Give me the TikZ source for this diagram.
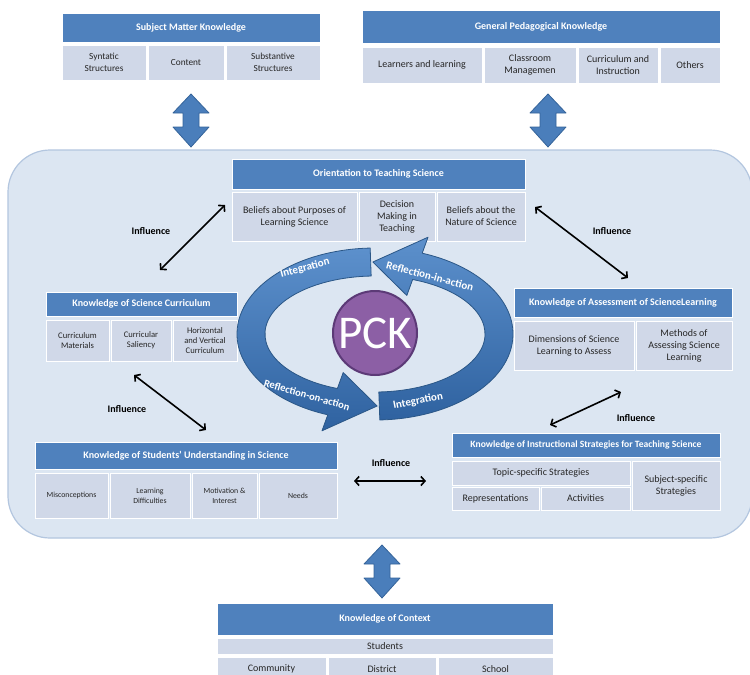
\documentclass[tikz,border=0pt]{standalone}
\usepackage{fontspec}
\setmainfont{Carlito}
\usetikzlibrary{arrows.meta}
\definecolor{hdrc}{HTML}{4F81BD}
\definecolor{cellc}{HTML}{D0D8E8}
\definecolor{bgc}{HTML}{DCE6F2}
\definecolor{bgline}{HTML}{B3C6DF}
\definecolor{blkc}{HTML}{4A7EBB}
\definecolor{blkline}{HTML}{35649A}
\definecolor{cyctop}{HTML}{5C90CC}
\definecolor{cycbot}{HTML}{2F62A0}
\definecolor{cycline}{HTML}{2B5787}
\definecolor{pckc}{HTML}{8C5FA5}
\definecolor{pckline}{HTML}{5C3A77}
\definecolor{txtc}{HTML}{262626}

\newcommand\boxnode[7]{%
  \pgfmathsetmacro\bxw{#5-#3}%
  \pgfmathsetmacro\bxh{#6-#4}%
  \node[#1, minimum width=\bxw pt, minimum height=\bxh pt] (#2) at ({(#3+#5)/2},{(#4+#6)/2}) {#7};}
\newcommand\dblarrow[3]{%
  \filldraw[blockarrow] (#1,#2) -- (#1+18,#2+19) -- (#1+8,#2+19) -- (#1+8,#3-20) -- (#1+18,#3-20)
    -- (#1,#3) -- (#1-18,#3-20) -- (#1-8,#3-20) -- (#1-8,#2+19) -- (#1-18,#2+19) -- cycle;}

\begin{document}
\begin{tikzpicture}[x=1pt,y=-1pt,
  hdr/.style={fill=hdrc, draw=white, line width=0.8pt, text=white,
    font=\fontsize{10}{12}\selectfont\bfseries, inner sep=1pt, align=center},
  cell/.style={fill=cellc, draw=white, line width=0.8pt, text=txtc,
    font=\fontsize{10}{12}\selectfont, inner sep=1pt, align=center},
  midcell/.style={cell, font=\fontsize{9.3}{11.5}\selectfont},
  smallcell/.style={cell, font=\fontsize{8.6}{10.2}\selectfont},
  tinycell/.style={cell, font=\fontsize{7.8}{9.8}\selectfont},
  blockarrow/.style={fill=blkc, draw=blkline, line width=0.8pt, line join=round},
  infl/.style={<->, >={Straight Barb[length=4pt,width=9pt]}, line width=1.6pt, black},
  infllbl/.style={font=\fontsize{10}{12}\selectfont\bfseries, text=black, inner sep=1pt},
  cyc/.style={top color=cyctop, bottom color=cycbot, draw=cycline, line width=0.8pt, line join=round},
  cyctxt/.style={text=white, font=\fontsize{11}{13}\selectfont\bfseries, inner sep=0pt},
]
\useasboundingbox (0,0) rectangle (750,675);
\fill[white] (0,0) rectangle (750,675);

% background panel
\draw[fill=bgc, draw=bgline, line width=1.2pt, rounded corners=42pt] (8,150) rectangle (752,538);

% block arrows
\dblarrow{191}{94}{147}
\dblarrow{548}{94}{147}
\dblarrow{382}{545}{598}

% Subject Matter Knowledge
\boxnode{hdr}{smk}{62}{13}{320}{42}{Subject Matter Knowledge}
\boxnode{midcell}{smk1}{62}{45}{146}{80}{Syntatic\\Structures}
\boxnode{midcell}{smk2}{148}{45}{224}{80}{Content}
\boxnode{midcell}{smk3}{226}{45}{320}{80}{Substantive\\Structures}

% General Pedagogical Knowledge
\boxnode{hdr}{gpk}{362}{10}{720}{43}{General Pedagogical Knowledge}
\boxnode{cell}{gpk1}{362}{47}{482}{83}{Learners and learning}
\boxnode{cell}{gpk2}{484}{47}{576}{83}{Classroom\\Managemen}
\boxnode{cell}{gpk3}{578}{47}{658}{83}{Curriculum and\\Instruction}
\boxnode{cell}{gpk4}{660}{47}{720}{83}{Others}

% Orientation to Teaching Science
\boxnode{hdr}{ots}{232}{159}{525}{189}{Orientation to Teaching Science}
\boxnode{cell}{ots1}{232}{192}{357}{241}{Beliefs about Purposes of\\Learning Science}
\boxnode{cell}{ots2}{359}{192}{435}{241}{Decision\\Making in\\Teaching}
\boxnode{cell}{ots3}{437}{192}{525}{241}{Beliefs about the\\Nature of Science}

% Knowledge of Science Curriculum
\boxnode{hdr}{ksc}{46}{292}{237}{316}{Knowledge of Science Curriculum}
\boxnode{smallcell}{ksc1}{46}{320}{109}{361}{Curriculum\\Materials}
\boxnode{smallcell}{ksc2}{111}{320}{171}{361}{Curricular\\Saliency}
\boxnode{smallcell}{ksc3}{173}{320}{237}{361}{Horizontal\\and Vertical\\Curriculum}

% Knowledge of Assessment
\boxnode{hdr}{kas}{514}{288}{732}{317}{Knowledge of Assessment of ScienceLearning}
\boxnode{cell}{kas1}{514}{321}{634}{370}{Dimensions of Science\\Learning to Assess}
\boxnode{cell}{kas2}{636}{321}{732}{370}{Methods of\\Assessing Science\\Learning}

% Knowledge of Students' Understanding
\boxnode{hdr}{ksu}{35}{442}{337}{469}{Knowledge of Students’ Understanding in Science}
\boxnode{tinycell}{ksu1}{35}{473}{108}{518}{Misconceptions}
\boxnode{tinycell}{ksu2}{110}{473}{190}{518}{Learning\\Difficulties}
\boxnode{tinycell}{ksu3}{192}{473}{257}{518}{Motivation \&\\Interest}
\boxnode{tinycell}{ksu4}{259}{473}{337}{518}{Needs}

% Knowledge of Instructional Strategies
\boxnode{hdr, font=\fontsize{9.6}{11}\selectfont\bfseries}{kis}{452}{433}{720}{457}{Knowledge of Instructional Strategies for Teaching Science}
\boxnode{cell}{kis1}{452}{461}{630}{485}{Topic-specific Strategies}
\boxnode{cell}{kis2}{452}{487}{539}{510}{Representations}
\boxnode{cell}{kis3}{541}{487}{630}{510}{Activities}
\boxnode{cell}{kis4}{632}{461}{720}{510}{Subject-specific\\Strategies}

% Knowledge of Context
\boxnode{hdr}{koc}{217}{603}{553}{635}{Knowledge of Context}
\boxnode{cell}{koc1}{217}{638}{553}{654}{Students}
\boxnode{cell}{koc2}{217}{657}{326}{681}{Community}
\boxnode{cell}{koc3}{328}{657}{436}{681}{District}
\boxnode{cell}{koc4}{438}{657}{553}{681}{School}

% influence connectors
\coordinate (i1a) at (225,205); \coordinate (i1b) at (160,270);
\coordinate (i2a) at (535,207); \coordinate (i2b) at (628,278);
\coordinate (i3a) at (134,375); \coordinate (i3b) at (206,430);
\coordinate (i4a) at (621,392); \coordinate (i4b) at (550,425);
\coordinate (i5a) at (354,481); \coordinate (i5b) at (426,481);
\draw[infl] (i1a) -- (i1b);
\draw[infl] (i2a) -- (i2b);
\draw[infl] (i3a) -- (i3b);
\draw[infl] (i4a) -- (i4b);
\draw[infl] (i5a) -- (i5b);
\node[infllbl] (l1) at (151,231) {Influence};
\node[infllbl] (l2) at (612,231) {Influence};
\node[infllbl] (l3) at (127,409) {Influence};
\node[infllbl] (l4) at (636,418) {Influence};
\node[infllbl] (l5) at (391,463) {Influence};

% PCK cycle
\begin{scope}[shift={(375,334)}]
  \path[cyc] (-92:138 and 86) arc[start angle=-92, end angle=-250, x radius=138, y radius=86]
    -- (-250:155 and 103) -- (-271:124 and 72) -- (-250:93 and 41) -- (-250:110 and 58)
    arc[start angle=-250, end angle=-92, x radius=110, y radius=58] -- cycle;
  \path[cyc] (-272:138 and 86) arc[start angle=-272, end angle=-430, x radius=138, y radius=86]
    -- (-430:155 and 103) -- (-451:124 and 72) -- (-430:93 and 41) -- (-430:110 and 58)
    arc[start angle=-430, end angle=-272, x radius=110, y radius=58] -- cycle;
\end{scope}
\node[cyctxt, rotate=15] (t1) at (305,268) {Integration};
\node[cyctxt, rotate=-15] (t2) at (430,276) {Reflection-in-action};
\node[cyctxt, rotate=-16, font=\fontsize{10.5}{12}\selectfont\bfseries] (t3) at (307,395) {Reflection-on-action};
\node[cyctxt, rotate=11] (t4) at (418,401) {Integration};

\node[circle, minimum size=84pt, fill=pckc, draw=pckline, line width=2pt, inner sep=0pt,
  text=white, font=\fontsize{47}{47}\selectfont] (pck) at (375,333) {PCK};
\end{tikzpicture}
\end{document}
